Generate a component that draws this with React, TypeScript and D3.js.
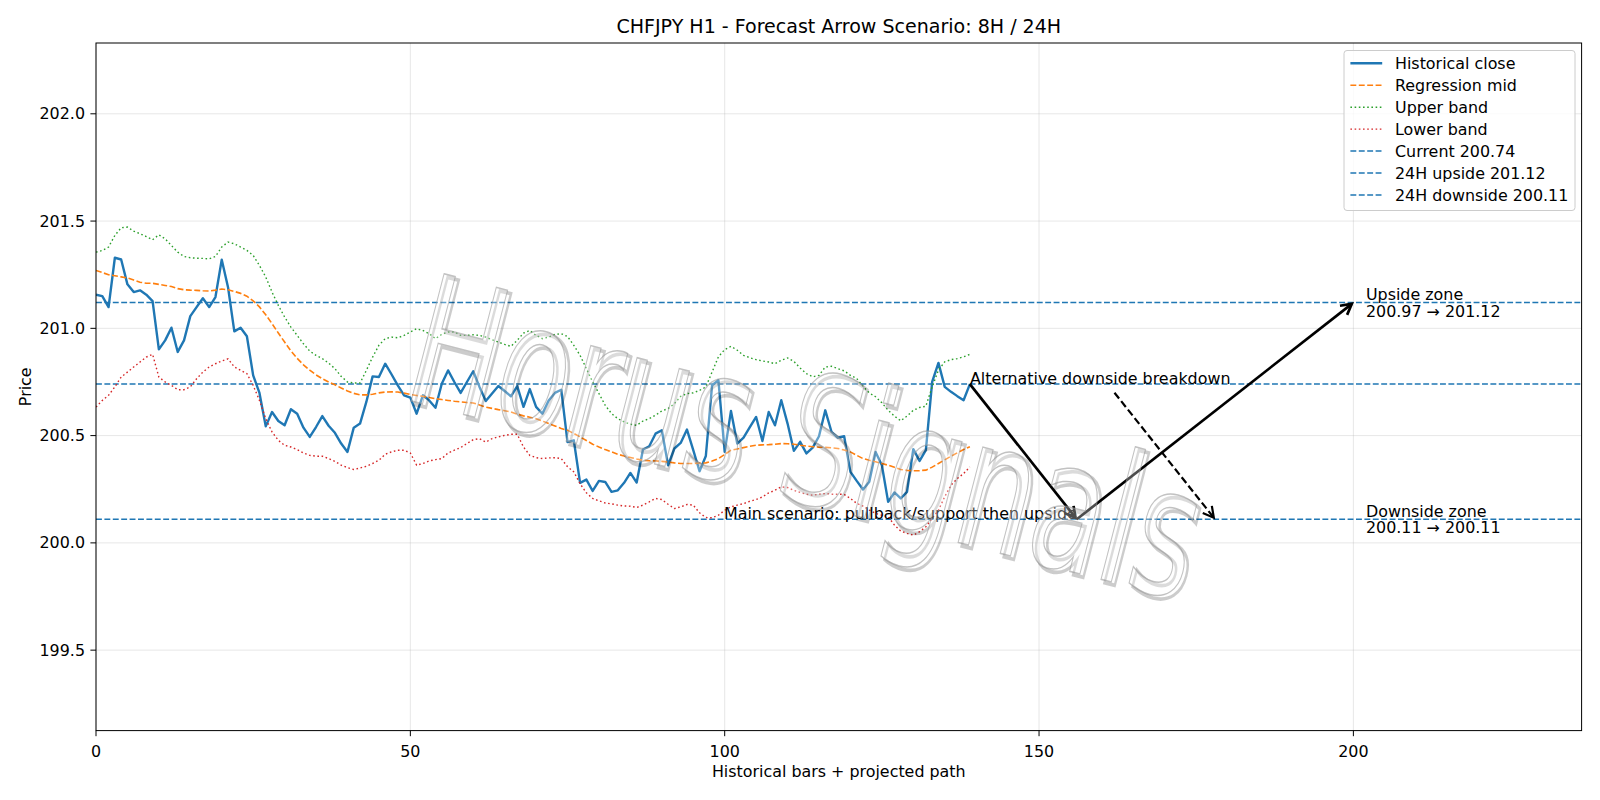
import React from "react";
import * as d3 from "d3";

// Hourly closes, bar 0 .. 139
const closes = [
  201.157, 201.15, 201.099, 201.329, 201.321, 201.205, 201.169, 201.177, 201.157, 201.127,
  200.902, 200.944, 201.003, 200.89, 200.944, 201.057, 201.099, 201.14, 201.099, 201.146,
  201.32, 201.192, 200.986, 201.003, 200.963, 200.781, 200.699, 200.543, 200.61, 200.568,
  200.548, 200.623, 200.602, 200.537, 200.494, 200.54, 200.591, 200.546, 200.513, 200.463,
  200.424, 200.537, 200.556, 200.657, 200.776, 200.773, 200.835, 200.786, 200.734, 200.688,
  200.677, 200.602, 200.688, 200.664, 200.63, 200.742, 200.804, 200.75, 200.699, 200.75,
  200.8, 200.727, 200.661, 200.696, 200.731, 200.708, 200.683, 200.731, 200.634, 200.717,
  200.634, 200.602, 200.664, 200.699, 200.714, 200.47, 200.478, 200.28, 200.295, 200.242,
  200.289, 200.284, 200.238, 200.245, 200.28, 200.326, 200.281, 200.435, 200.45, 200.509,
  200.525, 200.362, 200.44, 200.466, 200.528, 200.432, 200.334, 200.405, 200.735, 200.758,
  200.424, 200.615, 200.463, 200.491, 200.54, 200.587, 200.475, 200.61, 200.548, 200.665,
  200.556, 200.429, 200.471, 200.417, 200.444, 200.497, 200.618, 200.517, 200.49, 200.497,
  200.331, 200.289, 200.249, 200.285, 200.424, 200.362, 200.191, 200.235, 200.207, 200.238,
  200.437, 200.382, 200.432, 200.75, 200.839, 200.727, 200.704, 200.684, 200.665, 200.74,
];

// Regression channel
const mids = [
  201.27, 201.26, 201.25, 201.245, 201.24, 201.235, 201.225, 201.215, 201.21, 201.21,
  201.205, 201.2, 201.195, 201.185, 201.18, 201.178, 201.177, 201.175, 201.174, 201.178,
  201.183, 201.18, 201.172, 201.163, 201.15, 201.128, 201.1, 201.063, 201.022, 200.978,
  200.936, 200.895, 200.86, 200.83, 200.805, 200.783, 200.765, 200.75, 200.737, 200.722,
  200.708, 200.697, 200.69, 200.69, 200.693, 200.699, 200.703, 200.704, 200.703, 200.698,
  200.692, 200.687, 200.683, 200.678, 200.672, 200.668, 200.664, 200.66, 200.657, 200.654,
  200.652, 200.643, 200.633, 200.627, 200.621, 200.616, 200.61, 200.6, 200.592, 200.586,
  200.579, 200.568, 200.556, 200.545, 200.533, 200.525, 200.51, 200.494, 200.477, 200.46,
  200.447, 200.435, 200.424, 200.413, 200.405, 200.398, 200.391, 200.385, 200.383, 200.382,
  200.38, 200.377, 200.373, 200.37, 200.37, 200.37, 200.372, 200.373, 200.382, 200.393,
  200.412, 200.432, 200.438, 200.444, 200.45, 200.455, 200.457, 200.458, 200.46, 200.463,
  200.462, 200.46, 200.455, 200.451, 200.448, 200.446, 200.445, 200.443, 200.44, 200.433,
  200.424, 200.408, 200.393, 200.385, 200.378, 200.37, 200.362, 200.352, 200.342, 200.338,
  200.336, 200.337, 200.339, 200.353, 200.37, 200.387, 200.404, 200.42, 200.435, 200.448,
];

const uppers = [
  201.355, 201.363, 201.379, 201.433, 201.469, 201.472, 201.453, 201.441, 201.428, 201.413,
  201.436, 201.417, 201.386, 201.355, 201.335, 201.329, 201.327, 201.326, 201.324, 201.335,
  201.379, 201.402, 201.394, 201.379, 201.363, 201.34, 201.293, 201.239, 201.169, 201.107,
  201.053, 201.006, 200.967, 200.928, 200.894, 200.874, 200.859, 200.838, 200.812, 200.776,
  200.75, 200.745, 200.745, 200.804, 200.866, 200.921, 200.952, 200.959, 200.956, 200.967,
  200.983, 200.998, 200.99, 200.975, 200.952, 200.972, 200.983, 200.983, 200.967, 200.967,
  200.97, 200.967, 200.959, 200.947, 200.936, 200.925, 200.916, 200.944, 200.978, 200.99,
  200.967, 200.952, 200.959, 200.972, 200.975, 200.962, 200.921, 200.874, 200.812, 200.75,
  200.696, 200.641, 200.603, 200.579, 200.564, 200.553, 200.548, 200.568, 200.579, 200.595,
  200.615, 200.626, 200.649, 200.683, 200.696, 200.699, 200.711, 200.727, 200.797, 200.867,
  200.901, 200.916, 200.898, 200.874, 200.863, 200.854, 200.848, 200.843, 200.835, 200.851,
  200.862, 200.846, 200.815, 200.789, 200.774, 200.781, 200.82, 200.823, 200.812, 200.802,
  200.781, 200.766, 200.73, 200.699, 200.681, 200.653, 200.618, 200.591, 200.569, 200.591,
  200.618, 200.631, 200.637, 200.727, 200.805, 200.844, 200.854, 200.859, 200.867, 200.879,
];

const lowers = [
  200.633, 200.664, 200.688, 200.727, 200.773, 200.796, 200.82, 200.843, 200.866, 200.879,
  200.773, 200.75, 200.734, 200.714, 200.714, 200.727, 200.765, 200.796, 200.82, 200.835,
  200.848, 200.858, 200.82, 200.804, 200.789, 200.734, 200.664, 200.579, 200.517, 200.478,
  200.455, 200.447, 200.435, 200.419, 200.408, 200.404, 200.404, 200.393, 200.38, 200.362,
  200.351, 200.342, 200.349, 200.357, 200.37, 200.385, 200.413, 200.424, 200.432, 200.432,
  200.419, 200.362, 200.37, 200.382, 200.388, 200.393, 200.419, 200.432, 200.444, 200.463,
  200.481, 200.486, 200.47, 200.486, 200.494, 200.501, 200.506, 200.506, 200.447, 200.408,
  200.397, 200.393, 200.396, 200.397, 200.393, 200.355, 200.331, 200.276, 200.233, 200.207,
  200.196, 200.186, 200.182, 200.176, 200.172, 200.171, 200.165, 200.176, 200.191, 200.207,
  200.202, 200.18, 200.16, 200.168, 200.179, 200.176, 200.14, 200.118, 200.117, 200.129,
  200.152, 200.168, 200.176, 200.183, 200.194, 200.202, 200.214, 200.233, 200.245, 200.261,
  200.258, 200.245, 200.235, 200.227, 200.222, 200.227, 200.23, 200.227, 200.227, 200.226,
  200.207, 200.184, 200.171, 200.153, 200.137, 200.129, 200.122, 200.083, 200.055, 200.044,
  200.036, 200.052, 200.075, 200.114, 200.153, 200.215, 200.269, 200.3, 200.323, 200.354,
];

const currentPrice = 200.74;
const upsideTarget = 201.12;
const upsideFrom = 200.97;
const downsideTarget = 200.11;
const downsideFrom = 200.11;

// main scenario: pullback to support, then push to the upside target
const pathBars = [139, 156, 200];
const pathPrices = [200.74, 200.11, 201.12];
// alternative: breakdown towards the downside zone
const altBars = [162, 178];
const altPrices = [200.7, 200.11];
const zoneBar = 202;

const xTicks = [0, 50, 100, 150, 200];
const yTicks = [199.5, 200.0, 200.5, 201.0, 201.5, 202.0];

const W = 1600;
const H = 800;
const left = 96;
const right = 1581.6;
const top = 43;
const bottom = 730.6;

const FONT = "DejaVu Sans";
const FS = 15.9;
const BLUE = "#1f77b4";
const LEVEL_DASH = "5.9 2.5";
const DOT = "1.6 2.6";

function Arrow({ x0, y0, x1, y1, width, dash }) {
  const dx = x1 - x0;
  const dy = y1 - y0;
  const len = Math.hypot(dx, dy);
  const ux = dx / len;
  const uy = dy / len;
  // pull the tip back a little, like matplotlib's shrinkB
  const tx = x1 - ux * 2;
  const ty = y1 - uy * 2;
  const hl = 10.5;
  const hw = 5.8;
  const bx = tx - ux * hl;
  const by = ty - uy * hl;
  const head = `M${bx - uy * hw},${by + ux * hw}L${tx},${ty}L${bx + uy * hw},${by - ux * hw}`;
  return (
    <g stroke="#000" strokeWidth={width} fill="none">
      <line x1={x0} y1={y0} x2={tx} y2={ty} strokeDasharray={dash} />
      <path d={head} strokeLinejoin="miter" />
    </g>
  );
}

export default function App() {
  const x = d3.scaleLinear().domain([0, 236.3]).range([left, right]);
  const y = d3.scaleLinear().domain([199.125, 202.33]).range([bottom, top]);

  const line = d3
    .line<number>()
    .x((d, i) => x(i))
    .y((d) => y(d));

  const legendItems = [
    { label: "Historical close", color: BLUE, width: 2.4, dash: undefined },
    { label: "Regression mid", color: "#ff7f0e", width: 1.6, dash: LEVEL_DASH },
    { label: "Upper band", color: "#2ca02c", width: 1.4, dash: DOT },
    { label: "Lower band", color: "#d62728", width: 1.4, dash: DOT },
    { label: `Current ${currentPrice.toFixed(2)}`, color: BLUE, width: 1.5, dash: LEVEL_DASH },
    { label: `24H upside ${upsideTarget.toFixed(2)}`, color: BLUE, width: 1.5, dash: LEVEL_DASH },
    { label: `24H downside ${downsideTarget.toFixed(2)}`, color: BLUE, width: 1.5, dash: LEVEL_DASH },
  ];

  const legendLeft = 1344;
  const legendTop = 50.5;
  const rowH = 21.95;

  const mark = "translate(400,398) rotate(14.5) scale(1.18,1.8)";

  return (
    <svg
      width={W}
      height={H}
      style={{ position: "absolute", left: 0, top: 0, background: "#fff" }}
      fontFamily={FONT}
    >
      <defs>
        <clipPath id="plot">
          <rect x={left} y={top} width={right - left} height={bottom - top} />
        </clipPath>
      </defs>
      <rect width={W} height={H} fill="#fff" />

      {/* grid */}
      <g stroke="#b0b0b0" strokeOpacity={0.35} strokeWidth={0.9}>
        {xTicks.map((t) => (
          <line key={t} x1={x(t)} x2={x(t)} y1={top} y2={bottom} />
        ))}
        {yTicks.map((t) => (
          <line key={t} x1={left} x2={right} y1={y(t)} y2={y(t)} />
        ))}
      </g>

      <g clipPath="url(#plot)" fill="none">
        {/* reference levels */}
        {[currentPrice, upsideTarget, downsideTarget].map((v, i) => (
          <line
            key={i}
            x1={left}
            x2={right}
            y1={y(v)}
            y2={y(v)}
            stroke={BLUE}
            strokeWidth={1.5}
            strokeDasharray={LEVEL_DASH}
          />
        ))}
        <path d={line(closes)} stroke={BLUE} strokeWidth={2.4} strokeLinejoin="round" />
        <path d={line(mids)} stroke="#ff7f0e" strokeWidth={1.6} strokeDasharray={LEVEL_DASH} />
        <path d={line(uppers)} stroke="#2ca02c" strokeWidth={1.4} strokeDasharray={DOT} />
        <path d={line(lowers)} stroke="#d62728" strokeWidth={1.4} strokeDasharray={DOT} />
      </g>

      {/* scenario arrows */}
      <Arrow
        x0={x(pathBars[0])}
        y0={y(pathPrices[0])}
        x1={x(pathBars[1])}
        y1={y(pathPrices[1])}
        width={2.7}
        dash={undefined}
      />
      <Arrow
        x0={x(pathBars[1])}
        y0={y(pathPrices[1])}
        x1={x(pathBars[2])}
        y1={y(pathPrices[2])}
        width={2.7}
        dash={undefined}
      />
      <Arrow
        x0={x(altBars[0])}
        y0={y(altPrices[0])}
        x1={x(altBars[1])}
        y1={y(altPrices[1])}
        width={2.2}
        dash="7.4 3.4"
      />

      {/* annotations */}
      <g fontSize={FS} fill="#000">
        <text x={x(pathBars[0])} y={y(currentPrice)}>
          Alternative downside breakdown
        </text>
        <text x={x(pathBars[1])} y={y(downsideTarget)} textAnchor="end">
          Main scenario: pullback/support then upside
        </text>
        <text x={x(zoneBar)} y={y(upsideTarget) - 2.5}>
          Upside zone
        </text>
        <text x={x(zoneBar)} y={y(upsideTarget) + 14}>
          {`${upsideFrom.toFixed(2)} → ${upsideTarget.toFixed(2)}`}
        </text>
        <text x={x(zoneBar)} y={y(downsideTarget) - 2.5}>
          Downside zone
        </text>
        <text x={x(zoneBar)} y={y(downsideTarget) + 14}>
          {`${downsideFrom.toFixed(2)} → ${downsideTarget.toFixed(2)}`}
        </text>
      </g>

      {/* watermark: offset shadow outline under a hollow face */}
      <g pointerEvents="none" fontSize={100}>
        <g transform="translate(3.5,3.5)">
          <text
            transform={mark}
            fill="none"
            stroke="#000"
            strokeOpacity={0.2}
            strokeWidth={3.2}
            vectorEffect="non-scaling-stroke"
          >
            Horus Signals
          </text>
        </g>
        <text
          transform={mark}
          fill="#fff"
          fillOpacity={0.3}
          stroke="#8f8f8f"
          strokeOpacity={0.55}
          strokeWidth={1.3}
          vectorEffect="non-scaling-stroke"
        >
          Horus Signals
        </text>
      </g>

      {/* spines */}
      <rect
        x={left}
        y={top}
        width={right - left}
        height={bottom - top}
        fill="none"
        stroke="#000"
        strokeWidth={1}
      />

      {/* x axis */}
      <g fontSize={FS} fill="#000">
        {xTicks.map((t) => (
          <g key={t}>
            <line x1={x(t)} x2={x(t)} y1={bottom} y2={bottom + 5.6} stroke="#000" strokeWidth={1} />
            <text x={x(t)} y={bottom + 26.2} textAnchor="middle">
              {t}
            </text>
          </g>
        ))}
        <text x={(left + right) / 2} y={777.2} textAnchor="middle">
          Historical bars + projected path
        </text>
      </g>

      {/* y axis */}
      <g fontSize={FS} fill="#000">
        {yTicks.map((t) => (
          <g key={t}>
            <line x1={left - 5.6} x2={left} y1={y(t)} y2={y(t)} stroke="#000" strokeWidth={1} />
            <text x={left - 11} y={y(t)} textAnchor="end" dominantBaseline="central">
              {t.toFixed(1)}
            </text>
          </g>
        ))}
        <text
          transform={`translate(25.5,${(top + bottom) / 2}) rotate(-90)`}
          textAnchor="middle"
          dominantBaseline="central"
        >
          Price
        </text>
      </g>

      {/* title */}
      <text x={(left + right) / 2} y={32.5} textAnchor="middle" fontSize={19.05}>
        CHFJPY H1 - Forecast Arrow Scenario: 8H / 24H
      </text>

      {/* legend */}
      <g>
        <rect
          x={legendLeft}
          y={legendTop}
          width={231}
          height={160}
          rx={3}
          fill="#fff"
          fillOpacity={0.8}
          stroke="#cccccc"
          strokeWidth={1}
        />
        {legendItems.map((d, i) => {
          const cy = legendTop + 12.8 + i * rowH;
          return (
            <g key={d.label}>
              <line
                x1={legendLeft + 6.4}
                x2={legendLeft + 38.2}
                y1={cy}
                y2={cy}
                stroke={d.color}
                strokeWidth={d.width}
                strokeDasharray={d.dash}
              />
              <text x={legendLeft + 51} y={cy} dominantBaseline="central" fontSize={FS}>
                {d.label}
              </text>
            </g>
          );
        })}
      </g>
    </svg>
  );
}
